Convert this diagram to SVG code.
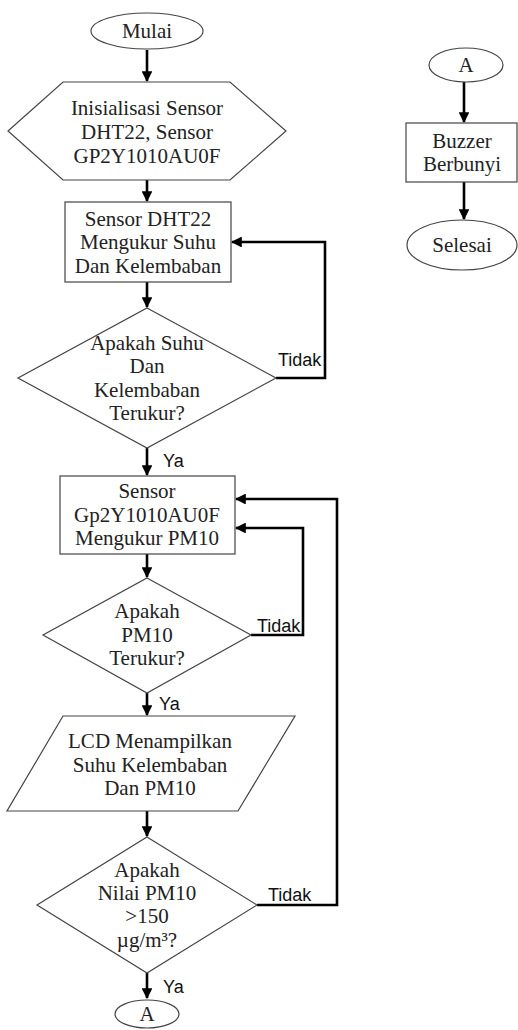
<svg xmlns="http://www.w3.org/2000/svg" width="518" height="1030" viewBox="0 0 518 1030">
<style>
.s{fill:#fff;stroke:#444;stroke-width:1.2}
.t{font-family:"Liberation Serif","Times New Roman",serif;font-size:21px;fill:#222;text-anchor:middle}
.l{font-family:"Liberation Sans",Arial,sans-serif;font-size:18px;fill:#111}
.c{fill:none;stroke:#000;stroke-width:2.6}
</style>
<defs>
<marker id="ah" viewBox="0 0 10 10" refX="9" refY="5" markerWidth="4.2" markerHeight="4.2" markerUnits="strokeWidth" orient="auto">
<path d="M0,0 L10,5 L0,10 z" fill="#000"/>
</marker>
</defs>
<rect width="518" height="1030" fill="#fff"/>
<g id="connectors">
<path class="c" d="M147,50 V81" marker-end="url(#ah)"/>
<path class="c" d="M147,180 V201" marker-end="url(#ah)"/>
<path class="c" d="M147,282 V307" marker-end="url(#ah)"/>
<path class="c" d="M276,378 H325 V242 H232" marker-end="url(#ah)"/>
<path class="c" d="M147,448 V475" marker-end="url(#ah)"/>
<path class="c" d="M147,554 V577" marker-end="url(#ah)"/>
<path class="c" d="M251,635 H303 V528 H236" marker-end="url(#ah)"/>
<path class="c" d="M147,693 V715" marker-end="url(#ah)"/>
<path class="c" d="M147,811 V836" marker-end="url(#ah)"/>
<path class="c" d="M257,905 H337 V499 H236" marker-end="url(#ah)"/>
<path class="c" d="M147,973 V998" marker-end="url(#ah)"/>
<path class="c" d="M464,82 V122" marker-end="url(#ah)"/>
<path class="c" d="M464,182 V219" marker-end="url(#ah)"/>
<text class="l" x="278" y="366">Tidak</text>
<text class="l" x="163" y="467">Ya</text>
<text class="l" x="257" y="632">Tidak</text>
<text class="l" x="159" y="710">Ya</text>
<text class="l" x="268" y="901">Tidak</text>
<text class="l" x="163" y="993">Ya</text>
</g>
<g id="mulai">
<ellipse class="s" cx="147" cy="31" rx="56" ry="18"/>
<text class="t" x="147" y="38">Mulai</text>
</g>
<g id="init">
<polygon class="s" points="8,131 63,82 230,82 286,131 230,180 63,180"/>
<text class="t" x="147" y="115">Inisialisasi Sensor</text>
<text class="t" x="147" y="139">DHT22, Sensor</text>
<text class="t" x="147" y="163">GP2Y1010AU0F</text>
</g>
<g id="dht">
<rect class="s" x="65" y="202" width="166" height="80"/>
<text class="t" x="148" y="226">Sensor DHT22</text>
<text class="t" x="148" y="249">Mengukur Suhu</text>
<text class="t" x="148" y="273">Dan Kelembaban</text>
</g>
<g id="cek1">
<polygon class="s" points="147,308 276,378 147,448 18,378"/>
<text class="t" x="147" y="350">Apakah Suhu</text>
<text class="t" x="147" y="373">Dan</text>
<text class="t" x="147" y="397">Kelembaban</text>
<text class="t" x="147" y="420">Terukur?</text>
</g>
<g id="gp2">
<rect class="s" x="60" y="476" width="175" height="78"/>
<text class="t" x="147" y="498">Sensor</text>
<text class="t" x="147" y="522">Gp2Y1010AU0F</text>
<text class="t" x="147" y="545">Mengukur PM10</text>
</g>
<g id="cek2">
<polygon class="s" points="147,578 251,635 147,693 43,635"/>
<text class="t" x="147" y="618">Apakah</text>
<text class="t" x="147" y="642">PM10</text>
<text class="t" x="147" y="665">Terukur?</text>
</g>
<g id="lcd">
<polygon class="s" points="63,716 295,716 238,811 7,811"/>
<text class="t" x="150" y="748">LCD Menampilkan</text>
<text class="t" x="150" y="772">Suhu Kelembaban</text>
<text class="t" x="150" y="795">Dan PM10</text>
</g>
<g id="cek3">
<polygon class="s" points="147,837 257,905 147,973 37,905"/>
<text class="t" x="147" y="877">Apakah</text>
<text class="t" x="147" y="900">Nilai PM10</text>
<text class="t" x="147" y="923">&gt;150</text>
<text class="t" x="147" y="947">µg/m³?</text>
</g>
<g id="a1">
<ellipse class="s" cx="147" cy="1014" rx="32" ry="14"/>
<text class="t" x="147" y="1021">A</text>
</g>
<g id="a2">
<ellipse class="s" cx="466" cy="65" rx="37" ry="17"/>
<text class="t" x="466" y="72">A</text>
</g>
<g id="buzzer">
<rect class="s" x="406" y="123" width="111" height="59"/>
<text class="t" x="462" y="148">Buzzer</text>
<text class="t" x="462" y="171">Berbunyi</text>
</g>
<g id="selesai">
<ellipse class="s" cx="462" cy="245" rx="55" ry="25"/>
<text class="t" x="462" y="252">Selesai</text>
</g>
</svg>
